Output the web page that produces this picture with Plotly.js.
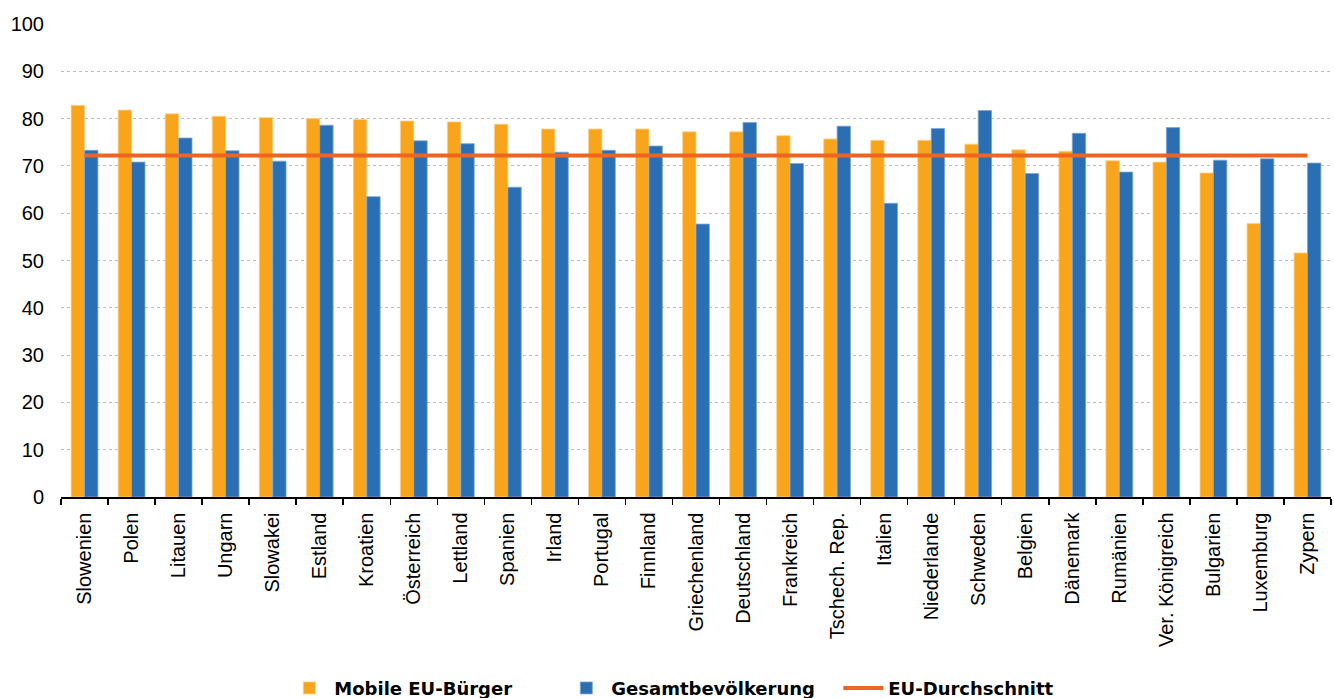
<!DOCTYPE html>
<html>
<head>
<meta charset="utf-8">
<script src="https://cdn.plot.ly/plotly-3.0.1.min.js"></script>
<style>
html,body{margin:0;padding:0;background:#fff;}
#chart{width:1334px;height:698px;}
</style>
</head>
<body>
<div id="chart"></div>
<script>
const categories = ["Slowenien","Polen","Litauen","Ungarn","Slowakei","Estland","Kroatien","Österreich","Lettland","Spanien","Irland","Portugal","Finnland","Griechenland","Deutschland","Frankreich","Tschech. Rep.","Italien","Niederlande","Schweden","Belgien","Dänemark","Rumänien","Ver. Königreich","Bulgarien","Luxemburg","Zypern"];
const mobileEU = [82.8,81.8,81.0,80.5,80.2,80.0,79.8,79.5,79.3,78.8,77.8,77.8,77.8,77.2,77.2,76.4,75.7,75.4,75.4,74.6,73.4,73.1,71.1,70.8,68.5,57.8,51.6];
const gesamt = [73.3,70.8,75.9,73.2,71.0,78.6,63.5,75.3,74.7,65.5,72.9,73.3,74.2,57.7,79.2,70.5,78.4,62.1,77.9,81.7,68.4,76.9,68.7,78.1,71.2,71.5,70.6];
const euAvgX = ["Slowenien","Zypern"];
const euAvgY = [72.2,72.2];
const yTicks = [0,10,20,30,40,50,60,70,80,90,100];

const traces = [
  {type:'bar', name:'Mobile EU-Bürger', x:categories, y:mobileEU,
   marker:{color:'#F9A51B', line:{color:'#FCD08A', width:0.8}}},
  {type:'bar', name:'Gesamtbevölkerung', x:categories, y:gesamt,
   marker:{color:'#2A6EB4', line:{color:'#7FA6D4', width:0.8}}},
  {type:'scatter', mode:'lines', name:'EU-Durchschnitt', x:euAvgX, y:euAvgY,
   line:{color:'#EE6420', width:4}}
];

const layout = {
  width:1334, height:698,
  margin:{l:61, r:3, t:24, b:201, pad:0},
  paper_bgcolor:'#fff', plot_bgcolor:'#fff',
  font:{family:'"Liberation Sans", Arial, sans-serif', color:'#000'},
  barmode:'group', bargap:0.43, bargroupgap:0,
  showlegend:true,
  legend:{orientation:'h', x:0.503, xanchor:'center', xref:'paper',
    y:0.014, yanchor:'middle', yref:'container',
    font:{family:'"DejaVu Sans", sans-serif', size:18, weight:'bold', color:'#000'},
    itemwidth:40, entrywidth:222, traceorder:'normal'},
  xaxis:{type:'category', tickangle:-90, tickfont:{size:20, color:'#000'},
    showline:true, linecolor:'#000', linewidth:1.5,
    ticks:'outside', ticklen:6, tickcolor:'#000', tickwidth:1.5, tickson:'boundaries',
    showgrid:false, zeroline:false, automargin:false, ticklabelstandoff:6},
  yaxis:{range:[0,100], tickvals:yTicks, ticktext:yTicks.map(String),
    tickfont:{size:20, color:'#000'}, showline:false, ticks:'',
    showgrid:true, gridcolor:'#BDBDBD', griddash:'dot', gridwidth:1,
    zeroline:false, automargin:false, ticklabelstandoff:16}
};

Plotly.newPlot('chart', traces, layout, {displayModeBar:false, staticPlot:true});
</script>
</body>
</html>
